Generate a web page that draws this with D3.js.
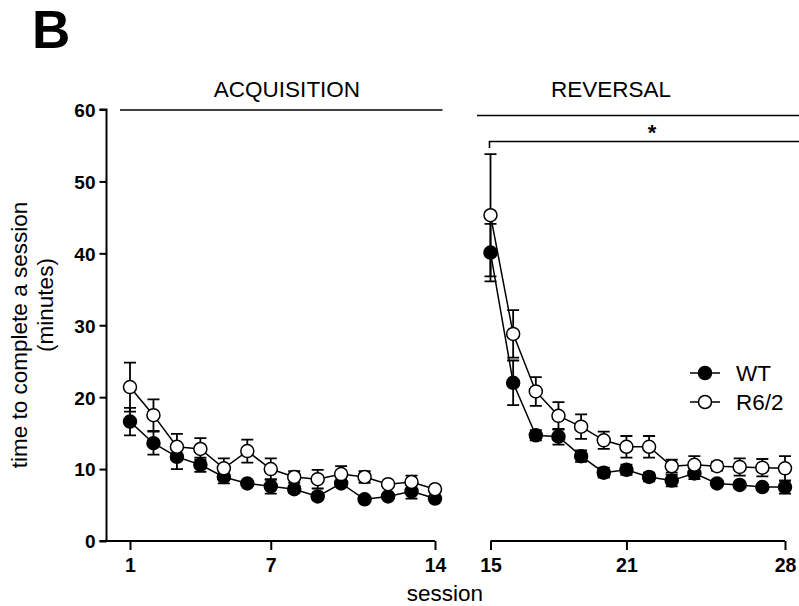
<!DOCTYPE html>
<html><head><meta charset="utf-8">
<script src="https://cdn.jsdelivr.net/npm/d3@7"></script>
<style>body{margin:0;background:#fff;} text{font-family:"Liberation Sans",Arial,sans-serif;}</style>
</head><body>
<svg id="c" width="799" height="606"></svg>
<script>
const sessionsAcq = [1,2,3,4,5,6,7,8,9,10,11,12,13,14];
const sessionsRev = [15,16,17,18,19,20,21,22,23,24,25,26,27,28];
const wtAcq   = [16.6,13.6,11.7,10.6,8.9,8.0,7.6,7.2,6.2,8.0,5.8,6.2,6.9,5.9];
const wtAcqErr= [1.9,1.6,1.7,1.0,0.9,0.3,1.0,0.5,0.4,0.3,0.3,0.3,1.0,0.3];
const r6Acq   = [21.4,17.5,13.1,12.8,10.1,12.5,10.0,8.9,8.6,9.3,8.9,7.9,8.2,7.2];
const r6AcqErr= [3.4,2.2,1.8,1.5,1.4,1.6,1.5,0.8,1.3,1.1,0.8,0.3,0.9,0.3];
const wtRev   = [40.1,22.0,14.7,14.5,11.8,9.5,9.9,8.9,8.4,9.4,8.0,7.8,7.5,7.5];
const wtRevErr= [4.0,3.1,0.7,1.1,0.8,0.7,0.7,0.6,0.8,0.8,0.3,0.3,0.3,0.9];
const r6Rev   = [45.3,28.8,20.8,17.4,15.9,14.0,13.1,13.1,10.4,10.6,10.4,10.3,10.2,10.1];
const r6RevErr= [8.5,3.3,2.0,1.9,1.7,1.2,1.5,1.5,0.9,1.2,0.6,1.2,1.2,1.7];
const yTicks = [0,10,20,30,40,50,60];
const acqTicks = [1,7,14];
const revTicks = [15,21,28];
const seriesNames = ["WT","R6/2"];

const svg = d3.select("#c");
const y = d3.scaleLinear().domain([0,60]).range([541,109.5]);
const xL = d3.scaleLinear().domain([1,14]).range([130,435]);
const xR = d3.scaleLinear().domain([15,28]).range([490.5,785]);
const axisX = 106.5;

// panel letter
svg.append("text").attr("x",32).attr("y",48).attr("font-size",53).attr("font-weight","bold").text("B");

// y axis
const ya = svg.append("g").attr("transform",`translate(${axisX},0)`)
  .call(d3.axisLeft(y).tickValues(yTicks).tickSize(7).tickPadding(4));
ya.select(".domain").attr("stroke-width",2).attr("d",`M-7,${y(60)}H0V${y(0)}H-7`);
ya.selectAll(".tick line").attr("stroke-width",2);
ya.selectAll(".tick text").attr("font-size",19).attr("font-weight","bold").attr("dy","0.36em")
  .attr("font-family","Liberation Sans, Arial, sans-serif").attr("fill","#000");

function xAxis(x, ticks, startX){
  const g = svg.append("g").attr("transform",`translate(0,${y(0)})`)
    .call(d3.axisBottom(x).tickValues(ticks).tickSize(9).tickPadding(8));
  g.select(".domain").attr("d",`M${startX},0H${x.range()[1]}`).attr("stroke-width",2);
  g.selectAll(".tick line").attr("stroke-width",2);
  g.selectAll(".tick text").attr("font-size",19.5).attr("font-weight","bold")
    .attr("font-family","Liberation Sans, Arial, sans-serif").attr("fill","#000");
}
xAxis(xL, acqTicks, axisX);
xAxis(xR, revTicks, xR.range()[0]);

// axis titles
svg.append("text").attr("x",445).attr("y",601).attr("text-anchor","middle").attr("font-size",22.5).text("session");
svg.append("text").attr("transform",`translate(27,335) rotate(-90)`).attr("text-anchor","middle").attr("font-size",22.5).text("time to complete a session");
svg.append("text").attr("transform",`translate(53,305) rotate(-90)`).attr("text-anchor","middle").attr("font-size",22.5).text("(minutes)");

// phase headers
svg.append("line").attr("x1",120).attr("x2",442.5).attr("y1",110).attr("y2",110).attr("stroke","#000").attr("stroke-width",1.6);
svg.append("text").attr("x",287).attr("y",97).attr("text-anchor","middle").attr("font-size",22.5).text("ACQUISITION");
svg.append("line").attr("x1",477).attr("x2",799).attr("y1",115.5).attr("y2",115.5).attr("stroke","#000").attr("stroke-width",1.6);
svg.append("text").attr("x",611).attr("y",97).attr("text-anchor","middle").attr("font-size",22.5).text("REVERSAL");
// significance bracket
svg.append("path").attr("d",`M${xR(15)-1},148V141.5H799`).attr("fill","none").attr("stroke","#000").attr("stroke-width",1.6);
svg.append("text").attr("x",652).attr("y",140).attr("text-anchor","middle").attr("font-size",22).attr("font-weight","bold").text("*");

function drawSeries(x, xs, vals, errs, fill){
  const data = xs.map((s,i)=>({s, v:vals[i], e:errs[i]}));
  const g = svg.append("g");
  const cap = 6;
  g.selectAll("path.err").data(data).join("path")
    .attr("d",d=>`M${x(d.s)-cap},${y(d.v+d.e)}H${x(d.s)+cap}M${x(d.s)},${y(d.v+d.e)}V${y(d.v-d.e)}M${x(d.s)-cap},${y(d.v-d.e)}H${x(d.s)+cap}`)
    .attr("stroke","#000").attr("stroke-width",1.8).attr("fill","none");
  g.append("path").datum(data)
    .attr("d",d3.line().x(d=>x(d.s)).y(d=>y(d.v)))
    .attr("fill","none").attr("stroke","#000").attr("stroke-width",1.5);
  g.selectAll("circle").data(data).join("circle")
    .attr("cx",d=>x(d.s)).attr("cy",d=>y(d.v)).attr("r",6.5)
    .attr("fill",fill).attr("stroke","#000").attr("stroke-width",1.5);
}
drawSeries(xL, sessionsAcq, wtAcq, wtAcqErr, "#000");
drawSeries(xL, sessionsAcq, r6Acq, r6AcqErr, "#fff");
drawSeries(xR, sessionsRev, wtRev, wtRevErr, "#000");
drawSeries(xR, sessionsRev, r6Rev, r6RevErr, "#fff");

// legend
const legend = svg.append("g");
seriesNames.forEach((name,i)=>{
  const ly = 373 + i*29;
  legend.append("line").attr("x1",690).attr("x2",720).attr("y1",ly).attr("y2",ly).attr("stroke","#000").attr("stroke-width",1.5);
  legend.append("circle").attr("cx",705).attr("cy",ly).attr("r",6.5).attr("fill",i===0?"#000":"#fff").attr("stroke","#000").attr("stroke-width",1.5);
  legend.append("text").attr("x",736).attr("y",ly+8).attr("font-size",22.5).text(name);
});
</script>
</body></html>
